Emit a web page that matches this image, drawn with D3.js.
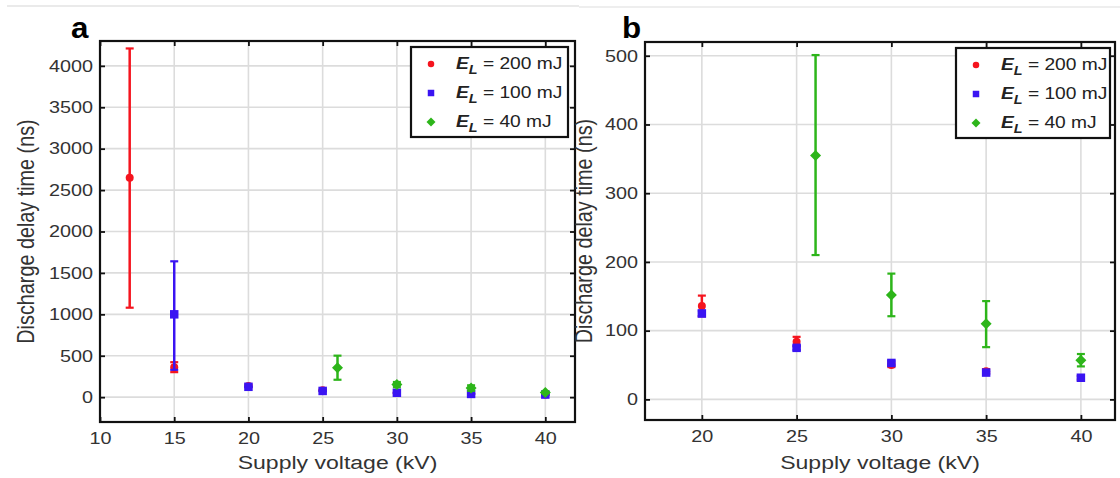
<!DOCTYPE html>
<html>
<head>
<meta charset="utf-8">
<script src="https://cdn.jsdelivr.net/npm/d3@7"></script>
<style>
  body { margin: 0; background: #fff; }
  svg { display: block; font-family: "Liberation Sans", Arial, sans-serif; }
</style>
</head>
<body>
<svg id="chart" width="1120" height="478"></svg>
<script>
// data (ns vs kV)
var volt200 = [12, 15, 20, 25, 30, 35, 40];
var delay200 = [2650, 362, 136, 84, 50, 41, 31];
var low200 = [1080, 302, 121, 77, 47, 38, 28];
var high200 = [4210, 422, 151, 91, 53, 44, 34];

var volt100 = [15, 20, 25, 30, 35, 40];
var delay100 = [1000, 125, 75, 53, 39, 31.5];
var low100 = [330, 121, 72, 50, 37, 29];
var high100 = [1640, 129, 78, 56, 41, 34];

var volt40 = [26, 30, 35, 40];
var delay40 = [355, 152, 110, 57];
var low40 = [210, 121, 76, 48];
var high40 = [501, 183, 143, 66];

var seriesNames = ["200 mJ", "100 mJ", "40 mJ"];
var seriesColors = ["#f5141e", "#3a14f2", "#2db51a"];
var seriesShapes = ["circle", "square", "diamond"];

var ticksA = { x: [10, 15, 20, 25, 30, 35, 40], y: [0, 500, 1000, 1500, 2000, 2500, 3000, 3500, 4000] };
var ticksB = { x: [20, 25, 30, 35, 40], y: [0, 100, 200, 300, 400, 500] };

var SX = 1.2; // figure is stretched horizontally
var svg = d3.select("#chart");

function pack(v, d, lo, hi) {
    return v.map(function(x, i) { return { x: x, y: d[i], lo: lo[i], hi: hi[i] }; });
}
var series = [
    pack(volt200, delay200, low200, high200),
    pack(volt100, delay100, low100, high100),
    pack(volt40, delay40, low40, high40)
];

function markerPath(shape, s) {
    var h = s / 2;
    if (shape === "circle") return d3.symbol(d3.symbolCircle, Math.PI * h * h)();
    if (shape === "square") return "M" + (-h) + "," + (-h) + "H" + h + "V" + h + "H" + (-h) + "Z";
    return "M0," + (-h) + "L" + h + ",0L0," + h + "L" + (-h) + ",0Z";
}

// faint rule across the top
svg.append("line").attr("x1", 7).attr("x2", 579).attr("y1", 6).attr("y2", 6)
    .attr("stroke", "#e3e3e3").attr("stroke-width", 1.5);
svg.append("line").attr("x1", 579).attr("x2", 1120).attr("y1", 7).attr("y2", 7)
    .attr("stroke", "#e8e8e8").attr("stroke-width", 1.5);

function drawPanel(cfg) {
    var x = d3.scaleLinear().domain(cfg.xDom).range([cfg.left, cfg.right]);
    var y = d3.scaleLinear().domain(cfg.yDom).range([cfg.bottom, cfg.top]);
    var g = svg.append("g");
    var fmt = d3.format("d");

    // grid
    g.selectAll(".gx").data(cfg.ticks.x).enter().append("line")
        .attr("x1", function(d) { return x(d); }).attr("x2", function(d) { return x(d); })
        .attr("y1", cfg.top).attr("y2", cfg.bottom)
        .attr("stroke", "#dcdcdc").attr("stroke-width", 1.6);
    g.selectAll(".gy").data(cfg.ticks.y).enter().append("line")
        .attr("y1", function(d) { return y(d); }).attr("y2", function(d) { return y(d); })
        .attr("x1", cfg.left).attr("x2", cfg.right)
        .attr("stroke", "#dcdcdc").attr("stroke-width", 1.6);

    // axes with inward ticks on all four sides
    var ax = [
        g.append("g").attr("transform", "translate(0," + cfg.bottom + ")")
            .call(d3.axisBottom(x).tickValues(cfg.ticks.x).tickFormat(fmt).tickSizeInner(-5).tickSizeOuter(0).tickPadding(10)),
        g.append("g").attr("transform", "translate(" + cfg.left + ",0)")
            .call(d3.axisLeft(y).tickValues(cfg.ticks.y).tickFormat(fmt).tickSizeInner(-5).tickSizeOuter(0).tickPadding(5.8)),
        g.append("g").attr("transform", "translate(0," + cfg.top + ")")
            .call(d3.axisTop(x).tickValues(cfg.ticks.x).tickSizeInner(-5).tickSizeOuter(0).tickFormat("")),
        g.append("g").attr("transform", "translate(" + cfg.right + ",0)")
            .call(d3.axisRight(y).tickValues(cfg.ticks.y).tickSizeInner(-5).tickSizeOuter(0).tickFormat(""))
    ];
    ax.forEach(function(a) {
        a.select(".domain").remove();
        a.selectAll(".tick line").attr("stroke", "#111").attr("stroke-width", 1.8);
        a.selectAll(".tick text").attr("fill", "#333").attr("font-size", 16.5)
            .attr("font-family", "Liberation Sans, Arial, sans-serif")
            .attr("transform", "scale(" + SX + ",1)");
    });

    // box
    g.append("rect").attr("x", cfg.left).attr("y", cfg.top)
        .attr("width", cfg.right - cfg.left).attr("height", cfg.bottom - cfg.top)
        .attr("fill", "none").attr("stroke", "#111").attr("stroke-width", 2.2);

    // data
    series.forEach(function(s, k) {
        var pts = s.filter(function(d) { return d.x >= cfg.xDom[0]; });
        var sg = g.append("g").attr("stroke", seriesColors[k]).attr("fill", seriesColors[k]);
        pts.forEach(function(d) {
            if (d.hi - d.lo > 0) {
                sg.append("line").attr("x1", x(d.x)).attr("x2", x(d.x))
                    .attr("y1", y(d.lo)).attr("y2", y(d.hi)).attr("stroke-width", 2.5);
                [d.lo, d.hi].forEach(function(v) {
                    sg.append("line").attr("x1", x(d.x) - 4).attr("x2", x(d.x) + 4)
                        .attr("y1", y(v)).attr("y2", y(v)).attr("stroke-width", 2.2);
                });
            }
        });
        sg.selectAll("path").data(pts).enter().append("path")
            .attr("d", markerPath(seriesShapes[k], [8, 8.5, 11][k]))
            .attr("stroke", "none")
            .attr("transform", function(d) { return "translate(" + x(d.x) + "," + y(d.y) + ")"; });
    });

    // legend
    var lg = g.append("g");
    lg.append("rect").attr("x", cfg.leg[0]).attr("y", cfg.leg[1])
        .attr("width", cfg.leg[2] - cfg.leg[0]).attr("height", cfg.leg[3] - cfg.leg[1])
        .attr("fill", "#fff").attr("stroke", "#111").attr("stroke-width", 2.2);
    seriesNames.forEach(function(name, k) {
        var ry = cfg.leg[1] + 17 + k * 29;
        lg.append("path").attr("d", markerPath(seriesShapes[k], [6.5, 6.5, 9][k]))
            .attr("fill", seriesColors[k])
            .attr("transform", "translate(" + (cfg.leg[0] + 20) + "," + ry + ")");
        var t = lg.append("text").attr("font-size", 16).attr("fill", "#222")
            .attr("transform", "translate(" + (cfg.leg[0] + 45) + "," + (ry + 5) + ") scale(" + SX + ",1)");
        t.append("tspan").attr("font-weight", "bold").attr("font-style", "italic").text("E");
        t.append("tspan").attr("font-weight", "bold").attr("font-style", "italic")
            .attr("font-size", 12).attr("dy", 5).text("L");
        t.append("tspan").attr("dy", -5).text(" = " + name);
    });

    // labels
    g.append("text").attr("text-anchor", "middle").attr("font-size", 19.2).attr("fill", "#333")
        .attr("transform", "translate(" + (cfg.left + cfg.right) / 2 + ",469) scale(" + SX + ",1)")
        .text("Supply voltage (kV)");
    g.append("text").attr("text-anchor", "middle").attr("font-size", 19.8).attr("fill", "#333")
        .attr("transform", "translate(" + cfg.yLabX + "," + (cfg.top + cfg.bottom) / 2 + ") scale(" + SX + ",1) rotate(-90)")
        .text("Discharge delay time (ns)");
    g.append("text").attr("font-size", 29).attr("font-weight", "bold").attr("fill", "#000")
        .attr("transform", "translate(" + cfg.tag[0] + "," + cfg.tag[1] + ") scale(1.08,1)")
        .text(cfg.name);
}

drawPanel({ name: "a", left: 100, right: 575, top: 41, bottom: 422,
    xDom: [10, 42], yDom: [-300, 4300], ticks: ticksA,
    leg: [411, 47, 568, 137], yLabX: 34, tag: [71, 38] });
drawPanel({ name: "b", left: 645, right: 1115, top: 42, bottom: 420,
    xDom: [17, 41.8], yDom: [-30, 520], ticks: ticksB,
    leg: [956, 48, 1110, 138], yLabX: 592, tag: [622, 38] });
</script>
</body>
</html>
